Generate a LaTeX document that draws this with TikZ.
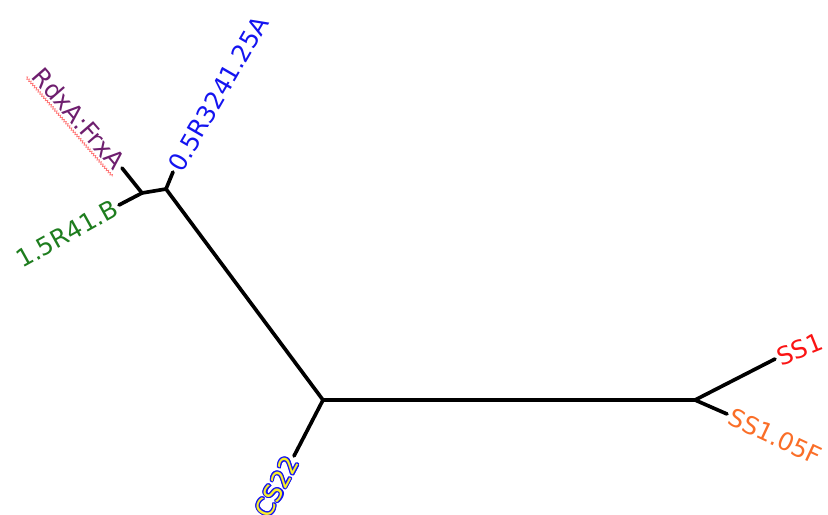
\documentclass[tikz,border=0pt]{standalone}
\usepackage{fontspec}
\setmainfont{DejaVu Sans}
\usepackage[copies]{contour}
\usetikzlibrary{decorations.pathmorphing}
\definecolor{leafblue}{RGB}{20,20,240}
\definecolor{leafpurple}{RGB}{110,30,110}
\definecolor{leafgreen}{RGB}{30,125,30}
\definecolor{leafred}{RGB}{250,20,20}
\definecolor{leaforange}{RGB}{250,110,40}
\definecolor{leafyellow}{RGB}{250,240,40}
\contourlength{0.8pt}
\contournumber{12}
\tikzset{
  branch/.style={line width=2.6pt, line cap=round, line join=round},
  leaf/.style={inner sep=2pt, font=\fontsize{17.5}{19}\selectfont}
}

\begin{document}
\begin{tikzpicture}[x=0.025cm, y=-0.025cm]
        \useasboundingbox (0,0) rectangle (828,514);
        % Inner nodes of the tree
        \coordinate (mid) at (323,400);
        \coordinate (right) at (695,400);
        \coordinate (top) at (166,189);
        \coordinate (topsub) at (142,193);
        % Tips of the leaves
        \coordinate (tipR) at (173,172);
        \coordinate (tipF) at (122,168);
        \coordinate (tipB) at (119,205);
        \coordinate (tipC) at (294,456);
        \coordinate (tipS) at (775,359);
        \coordinate (tipSF) at (727,414);
        % Branches
        \draw[branch] (mid) -- (right);
        \draw[branch] (mid) -- (top);
        \draw[branch] (mid) -- (tipC);
        \draw[branch] (top) -- (tipR);
        \draw[branch] (top) -- (topsub);
        \draw[branch] (topsub) -- (tipF);
        \draw[branch] (topsub) -- (tipB);
        \draw[branch] (right) -- (tipS);
        \draw[branch] (right) -- (tipSF);
        % Leaf labels
        \node[leaf, text=leafblue, anchor=west, rotate=60] (labR) at (tipR) {0.5R3241.25A};
        \node[leaf, text=leafpurple, anchor=east, rotate=-49] (labF) at (tipF) {RdxA:FrxA};
        \draw[red!55, line width=0.5pt, decorate, decoration={zigzag, amplitude=0.8pt, segment length=2pt}]
          (labF.south west) -- (labF.south east);
        \node[leaf, text=leafgreen, anchor=east, rotate=29] (labB) at (tipB) {1.5R41.B};
        \node[leaf, anchor=east, rotate=62] (labC) at (tipC) {\contour{leafblue}{\textcolor{leafyellow}{CS22}}};
        \node[leaf, text=leafred, anchor=west, rotate=22] (labS) at (tipS) {SS1};
        \node[leaf, text=leaforange, anchor=west, rotate=-25] (labSF) at (tipSF) {SS1.05F};
    \end{tikzpicture}
\end{document}
